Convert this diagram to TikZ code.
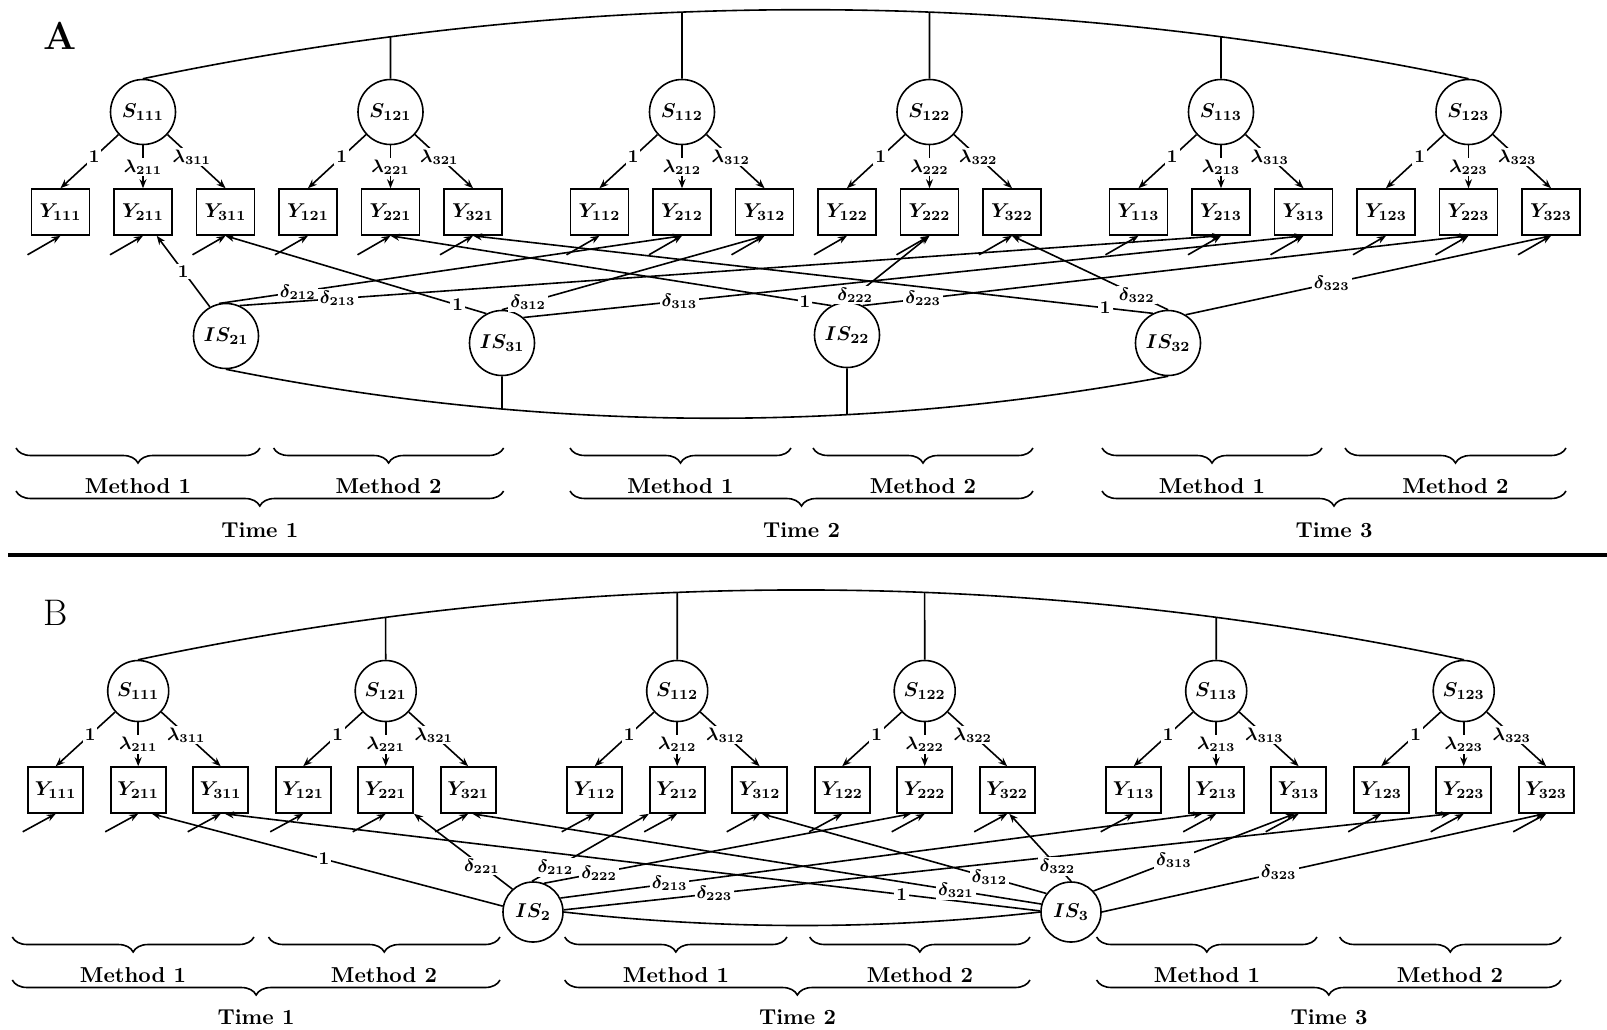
\documentclass[tikz,border=0pt]{standalone}
\usepackage{amsmath,bm}
\usetikzlibrary{arrows.meta,calc,decorations.pathreplacing,intersections}

\begin{document}
\begin{tikzpicture}[x=0.5pt, y=-0.5pt, font=\boldmath,
  latent/.style={draw, circle, thick, minimum size=32.5pt, inner sep=0pt},
  obs/.style={draw, rectangle, thick, minimum width=29pt, minimum height=23pt, inner sep=0pt},
  load/.style={thick, -{Stealth[length=4.5pt, width=3.5pt]}},
  coef/.style={fill=white, inner sep=1pt, font=\small\boldmath},
  brc/.style={thick, decorate, decoration={brace, mirror, amplitude=7.5pt}},
  lab/.style={font=\fontsize{10.8}{13}\selectfont\bfseries}]
\useasboundingbox (0,0) rectangle (1607,1029);

% panel A
\node[font=\fontsize{19.5}{20}\selectfont\bfseries] (tagA) at (60,36) {A};
\foreach \t/\bx in {1/60.5, 2/599.5, 3/1138.5}
  \foreach \j in {1,2}
    \foreach \i in {1,2,3} {
      \pgfmathsetmacro\xx{\bx+82.5*(3*(\j-1)+\i-1)}
      \node[obs] (yA\i\j\t) at (\xx,212) {$Y_{\i\j\t}$};
      \coordinate (eA\i\j\t) at ($(yA\i\j\t.south)+(-33,19)$);
      \draw[load] (eA\i\j\t) -- (yA\i\j\t.south);
    }
\foreach \t/\bx in {1/60.5, 2/599.5, 3/1138.5}
  \foreach \j in {1,2} {
    \pgfmathsetmacro\xx{\bx+82.5*(3*(\j-1)+1)}
    \node[latent] (sA1\j\t) at (\xx,112) {$S_{1\j\t}$};
    \draw[load] (sA1\j\t) -- node[coef, pos=0.42] {$1$} (yA1\j\t.north);
    \draw[load] (sA1\j\t) -- node[coef] {$\lambda_{2\j\t}$} (yA2\j\t.north);
    \draw[load] (sA1\j\t) -- node[coef, pos=0.42] {$\lambda_{3\j\t}$} (yA3\j\t.north);
  }
\draw[thick, name path=arcA] (sA111.north) .. controls +(441.7,-92) and +(-441.7,-92) .. (sA123.north);
\foreach \s in {sA121, sA112, sA122, sA113} {
  \path[name path=stem] (\s.north) -- ++(0,-120);
  \draw[thick, name intersections={of=arcA and stem}] (\s.north) -- (intersection-1);
}

\node[latent] (isA21) at (226,336) {$IS_{21}$};
\node[latent] (isA31) at (502,343) {$IS_{31}$};
\node[latent] (isA22) at (847,335) {$IS_{22}$};
\node[latent] (isA32) at (1168,343) {$IS_{32}$};

\draw[load] (isA21.119) -- node[coef] {$1$} (yA211.-60);
\draw[load] (isA21.102) -- node[coef, pos=0.17] {$\delta_{212}$} (yA212.south);
\draw[load] (isA21.66) -- node[coef, pos=0.1] {$\delta_{213}$} (yA213.south);
\draw[load] (isA31.118) -- node[coef, pos=0.11] {$1$} (yA311.south);
\draw[load] (isA31.north) -- node[coef, pos=0.1] {$\delta_{312}$} (yA312.south);
\draw[load] (isA31.50) -- node[coef, pos=0.2] {$\delta_{313}$} (yA313.south);
\draw[load] (isA22.118) -- node[coef, pos=0.06] {$1$} (yA221.south);
\draw[load] (isA22.north) -- node[coef, pos=0.1] {$\delta_{222}$} (yA222.south);
\draw[load] (isA22.62) -- node[coef, pos=0.1] {$\delta_{223}$} (yA223.south);
\draw[load] (isA32.117) -- node[coef, pos=0.07] {$1$} (yA321.south);
\draw[load] (isA32.north) -- node[coef, pos=0.2] {$\delta_{322}$} (yA322.south);
\draw[load] (isA32.58) -- node[coef, pos=0.4] {$\delta_{323}$} (yA323.south);

\draw[thick, name path=arcIS] (isA21.south) .. controls +(314,63) and +(-314,58) .. (isA32.south);
\foreach \s in {isA31, isA22} {
  \path[name path=stem] (\s.south) -- ++(0,120);
  \draw[thick, name intersections={of=arcIS and stem}] (\s.south) -- (intersection-1);
}

\draw[brc] (16,448) -- (260,448);
\draw[brc] (273.6,448) -- (503.6,448);
\draw[brc] (16,491) -- (503.6,491);
\node[lab] at (138,486) {Method 1};
\node[lab] at (388.6,486) {Method 2};
\node[lab] at (259.8,530) {Time 1};
\draw[brc] (570,448) -- (791,448);
\draw[brc] (813,448) -- (1033,448);
\draw[brc] (570,491) -- (1033,491);
\node[lab] at (680.5,486) {Method 1};
\node[lab] at (923,486) {Method 2};
\node[lab] at (801.5,530) {Time 2};
\draw[brc] (1102,448) -- (1322,448);
\draw[brc] (1345,448) -- (1566,448);
\draw[brc] (1102,491) -- (1566,491);
\node[lab] at (1212,486) {Method 1};
\node[lab] at (1455.5,486) {Method 2};
\node[lab] at (1334,530) {Time 3};

\draw[line width=2pt] (8,554.5) -- (1607,554.5);

% panel B
\node[font=\fontsize{18.5}{20}\selectfont] (tagB) at (55.5,613) {B};
\foreach \t/\bx in {1/55.7, 2/594.7, 3/1133.7}
  \foreach \j in {1,2}
    \foreach \i in {1,2,3} {
      \pgfmathsetmacro\xx{\bx+82.5*(3*(\j-1)+\i-1)}
      \node[obs, minimum width=27.5pt] (yB\i\j\t) at (\xx,790) {$Y_{\i\j\t}$};
      \coordinate (eB\i\j\t) at ($(yB\i\j\t.south)+(-33,18)$);
      \draw[load] (eB\i\j\t) -- (yB\i\j\t.south);
    }
\foreach \t/\bx in {1/55.7, 2/594.7, 3/1133.7}
  \foreach \j in {1,2} {
    \pgfmathsetmacro\xx{\bx+82.5*(3*(\j-1)+1)}
    \node[latent, minimum size=30.5pt] (sB1\j\t) at (\xx,691) {$S_{1\j\t}$};
    \draw[load] (sB1\j\t) -- node[coef, pos=0.42] {$1$} (yB1\j\t.north);
    \draw[load] (sB1\j\t) -- node[coef] {$\lambda_{2\j\t}$} (yB2\j\t.north);
    \draw[load] (sB1\j\t) -- node[coef, pos=0.42] {$\lambda_{3\j\t}$} (yB3\j\t.north);
  }
\draw[thick, name path=arcB] (sB111.north) .. controls +(441.7,-93) and +(-441.7,-93) .. (sB123.north);
\foreach \s in {sB121, sB112, sB122, sB113} {
  \path[name path=stem] (\s.north) -- ++(0,-120);
  \draw[thick, name intersections={of=arcB and stem}] (\s.north) -- (intersection-1);
}

\node[latent, minimum size=30pt] (isB2) at (533,912) {$IS_{2}$};
\node[latent, minimum size=30pt] (isB3) at (1071,912) {$IS_{3}$};

\draw[load] (isB2.169) -- node[coef, pos=0.51] {$1$} (yB211.-60);
\draw[load] (isB2.132) -- node[coef, pos=0.31] {$\delta_{221}$} (yB221.south east);
\draw[load] (isB2.92) -- node[coef, pos=0.2] {$\delta_{212}$} (yB212.south west);
\draw[load] (isB2.69) -- node[coef, pos=0.15] {$\delta_{222}$} (yB222.-120);
\draw[load] (isB2.27) -- node[coef, pos=0.17] {$\delta_{213}$} (yB213.-120);
\draw[load] (isB2.4) -- node[coef, pos=0.17] {$\delta_{223}$} (yB223.-120);
\draw[load] (isB3.178) -- node[coef, pos=0.17] {$1$} (yB311.-80);
\draw[load] (isB3.165) -- node[coef, pos=0.15] {$\delta_{321}$} (yB321.-80);
\draw[load] (isB3.143) -- node[coef, pos=0.2] {$\delta_{312}$} (yB312.-85);
\draw[load] (isB3.north) -- node[coef, pos=0.22] {$\delta_{322}$} (yB322.-85);
\draw[load] (isB3.43) -- node[coef, pos=0.4] {$\delta_{313}$} (yB313.-100);
\draw[load] (isB3.east) -- node[coef, pos=0.4] {$\delta_{323}$} (yB323.-95);
\draw[thick] (isB2.east) .. controls +(160,18) and +(-160,18) .. (isB3.west);

\draw[brc] (12.3,937) -- (254,937);
\draw[brc] (268.5,937) -- (500,937);
\draw[brc] (12.3,980) -- (500,980);
\node[lab] at (133,975) {Method 1};
\node[lab] at (384,975) {Method 2};
\node[lab] at (256,1017) {Time 1};
\draw[brc] (564.7,937) -- (787,937);
\draw[brc] (809.7,937) -- (1030,937);
\draw[brc] (564.7,980) -- (1030,980);
\node[lab] at (676,975) {Method 1};
\node[lab] at (920,975) {Method 2};
\node[lab] at (797.5,1017) {Time 2};
\draw[brc] (1096.6,937) -- (1317,937);
\draw[brc] (1339.6,937) -- (1561,937);
\draw[brc] (1096.6,980) -- (1561,980);
\node[lab] at (1207,975) {Method 1};
\node[lab] at (1450,975) {Method 2};
\node[lab] at (1329,1017) {Time 3};
\end{tikzpicture}
\end{document}
